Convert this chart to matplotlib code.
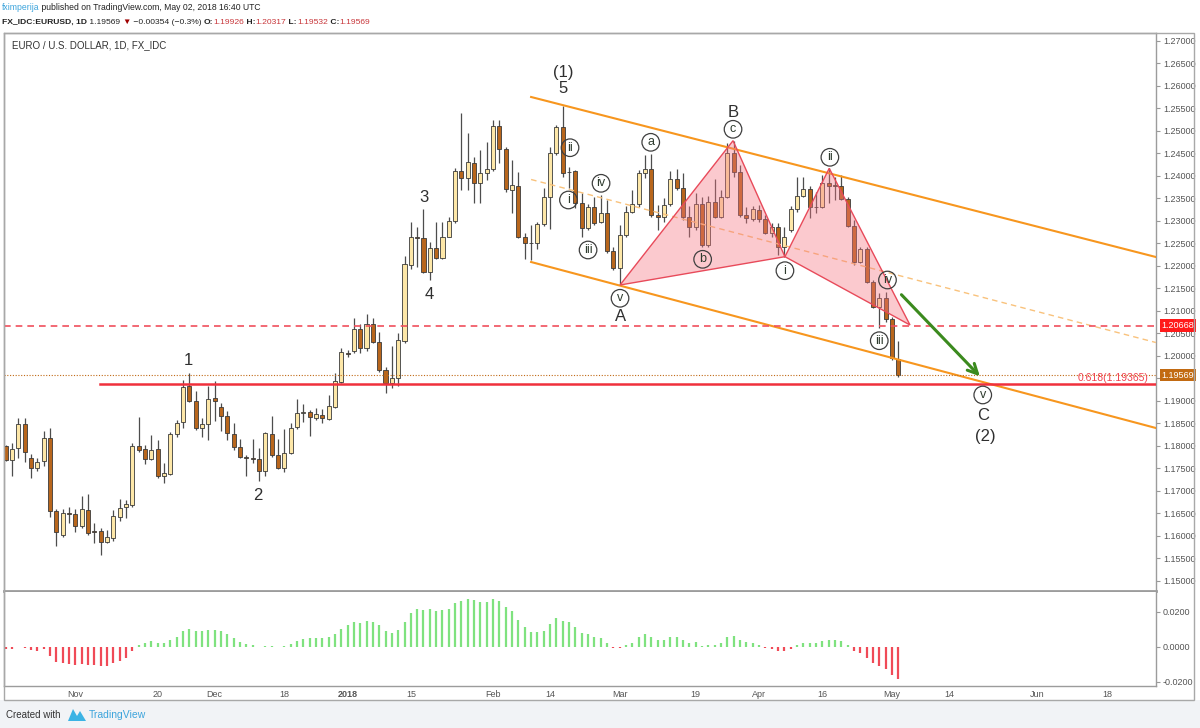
import matplotlib
matplotlib.use('Agg')
import matplotlib.pyplot as plt
import matplotlib.transforms as mtransforms
from matplotlib.patches import Polygon, Rectangle
import numpy as np
import pandas as pd

plt.rcParams['font.family'] = ['Liberation Sans', 'DejaVu Sans']

# FX_IDC:EURUSD daily candles, 17 Oct 2017 .. 2 May 2018 (one per weekday)
opens = [
    1.17994, 1.17683, 1.17942, 1.18483, 1.17720, 1.17497, 1.17660, 1.18179, 1.16549, 1.16008,
    1.16512, 1.16475, 1.16223, 1.16571, 1.16112, 1.16112, 1.15868, 1.15957, 1.16423, 1.16630,
    1.16682, 1.17994, 1.17927, 1.17705, 1.17920, 1.17334, 1.17379, 1.18253, 1.18520, 1.19327,
    1.18994, 1.18401, 1.18483, 1.19053, 1.18868, 1.18668, 1.18260, 1.17979, 1.17742, 1.17727,
    1.17697, 1.17438, 1.18260, 1.17794, 1.17512, 1.17846, 1.18408, 1.18720, 1.18757, 1.18623,
    1.18682, 1.18586, 1.18868, 1.19423, 1.20060, 1.20112, 1.20601, 1.20164, 1.20705, 1.20297,
    1.19682, 1.19386, 1.19497, 1.20334, 1.22016, 1.22645, 1.22608, 1.21867, 1.22386, 1.22164,
    1.22645, 1.23001, 1.24104, 1.23942, 1.24290, 1.23845, 1.24053, 1.24142, 1.25104, 1.24586,
    1.23682, 1.23771, 1.22645, 1.22512, 1.22497, 1.22927, 1.23519, 1.24497, 1.25075, 1.24090,
    1.24104, 1.23386, 1.22845, 1.23297, 1.22979, 1.23179, 1.22334, 1.21942, 1.22682, 1.23201,
    1.23371, 1.24067, 1.24142, 1.23127, 1.23075, 1.23371, 1.23927, 1.23719, 1.23075, 1.22853,
    1.23371, 1.22460, 1.23423, 1.23075, 1.23534, 1.24497, 1.24090, 1.23127, 1.23030, 1.23238,
    1.23030, 1.22719, 1.22853, 1.22408, 1.22793, 1.23253, 1.23549, 1.23697, 1.23312, 1.23297,
    1.23830, 1.23793, 1.23771, 1.23475, 1.22882, 1.22090, 1.22364, 1.21645, 1.21075, 1.21275,
    1.20808, 1.19926]
highs = [
    1.18010, 1.18068, 1.18623, 1.18623, 1.17816, 1.17720, 1.18327, 1.18386, 1.16586, 1.16586,
    1.16645, 1.16586, 1.16890, 1.16927, 1.16275, 1.16164, 1.16127, 1.16571, 1.16816, 1.16794,
    1.18068, 1.18631, 1.18016, 1.18238, 1.18127, 1.17608, 1.18312, 1.18571, 1.19460, 1.19623,
    1.19223, 1.18608, 1.19334, 1.19438, 1.18957, 1.18779, 1.18497, 1.18142, 1.17794, 1.18142,
    1.17942, 1.18312, 1.18660, 1.18142, 1.18364, 1.18512, 1.19038, 1.18927, 1.18794, 1.18831,
    1.18808, 1.19127, 1.19608, 1.20164, 1.20127, 1.20830, 1.20705, 1.20927, 1.20830, 1.20519,
    1.19756, 1.20216, 1.20497, 1.22216, 1.22979, 1.22867, 1.23253, 1.22534, 1.22979, 1.22979,
    1.23075, 1.24164, 1.25401, 1.24956, 1.24423, 1.24571, 1.24756, 1.25238, 1.25238, 1.24645,
    1.24349, 1.24090, 1.22734, 1.22905, 1.22979, 1.23719, 1.24645, 1.25127, 1.25549, 1.24201,
    1.24127, 1.23608, 1.23371, 1.23534, 1.23571, 1.23460, 1.22423, 1.22905, 1.23327, 1.23682,
    1.24127, 1.24460, 1.24482, 1.23349, 1.23497, 1.24112, 1.24142, 1.24067, 1.23327, 1.23608,
    1.23534, 1.23549, 1.23919, 1.23682, 1.24719, 1.24779, 1.24238, 1.23312, 1.23327, 1.23349,
    1.23127, 1.22942, 1.22942, 1.22867, 1.23327, 1.23964, 1.23979, 1.23771, 1.23645, 1.24016,
    1.24164, 1.23979, 1.24016, 1.23534, 1.23016, 1.22423, 1.22423, 1.21682, 1.21386, 1.21423,
    1.20867, 1.20317]
lows = [
    1.17670, 1.17327, 1.17720, 1.17646, 1.17275, 1.17446, 1.17549, 1.16423, 1.15771, 1.15979,
    1.16275, 1.16090, 1.16164, 1.16008, 1.15831, 1.15579, 1.15831, 1.15890, 1.16327, 1.16386,
    1.16645, 1.17868, 1.17594, 1.17683, 1.17275, 1.17164, 1.17349, 1.18186, 1.18386, 1.18964,
    1.18349, 1.18201, 1.18127, 1.18549, 1.18327, 1.18127, 1.17905, 1.17720, 1.17334, 1.17608,
    1.17216, 1.17334, 1.17757, 1.17483, 1.17409, 1.17809, 1.18364, 1.18520, 1.18216, 1.18571,
    1.18497, 1.18571, 1.18831, 1.19386, 1.19979, 1.20053, 1.20053, 1.20112, 1.20275, 1.19645,
    1.19179, 1.19275, 1.19327, 1.20290, 1.21919, 1.21979, 1.21845, 1.21682, 1.22142, 1.22142,
    1.22630, 1.22942, 1.23682, 1.23682, 1.23401, 1.23386, 1.23905, 1.24112, 1.24275, 1.23645,
    1.23179, 1.22608, 1.22142, 1.22127, 1.22364, 1.22882, 1.22808, 1.24460, 1.23979, 1.23719,
    1.23275, 1.22645, 1.22793, 1.22905, 1.22956, 1.22275, 1.21900, 1.21571, 1.22645, 1.23164,
    1.23312, 1.23942, 1.23090, 1.22793, 1.22979, 1.23327, 1.23682, 1.23016, 1.22645, 1.22793,
    1.22423, 1.22423, 1.23053, 1.23053, 1.23497, 1.23979, 1.23090, 1.22942, 1.23001, 1.22979,
    1.22705, 1.22630, 1.22238, 1.22186, 1.22756, 1.23201, 1.23519, 1.23053, 1.23164, 1.23275,
    1.23386, 1.23460, 1.23460, 1.22867, 1.22016, 1.22053, 1.21608, 1.21053, 1.20608, 1.20756,
    1.19904, 1.19532]
closes = [
    1.17683, 1.17920, 1.18483, 1.17853, 1.17497, 1.17646, 1.18179, 1.16549, 1.16075, 1.16497,
    1.16475, 1.16223, 1.16586, 1.16053, 1.16083, 1.15868, 1.15964, 1.16438, 1.16623, 1.16697,
    1.17994, 1.17905, 1.17705, 1.17905, 1.17334, 1.17401, 1.18253, 1.18497, 1.19312, 1.18994,
    1.18401, 1.18475, 1.19038, 1.18994, 1.18668, 1.18275, 1.17979, 1.17742, 1.17727, 1.17712,
    1.17438, 1.18275, 1.17794, 1.17512, 1.17846, 1.18401, 1.18720, 1.18757, 1.18645, 1.18697,
    1.18608, 1.18890, 1.19438, 1.20075, 1.20045, 1.20601, 1.20164, 1.20705, 1.20297, 1.19682,
    1.19401, 1.19497, 1.20349, 1.22038, 1.22645, 1.22623, 1.21867, 1.22386, 1.22164, 1.22645,
    1.23001, 1.24104, 1.23942, 1.24304, 1.23845, 1.24053, 1.24142, 1.25104, 1.24586, 1.23697,
    1.23793, 1.22645, 1.22497, 1.22497, 1.22927, 1.23519, 1.24497, 1.25075, 1.24067, 1.24075,
    1.23401, 1.22845, 1.23297, 1.22942, 1.23179, 1.22334, 1.21942, 1.22682, 1.23201, 1.23371,
    1.24067, 1.24142, 1.23127, 1.23075, 1.23349, 1.23927, 1.23719, 1.23075, 1.22867, 1.23371,
    1.22460, 1.23423, 1.23090, 1.23534, 1.24497, 1.24090, 1.23127, 1.23053, 1.23253, 1.23030,
    1.22719, 1.22867, 1.22408, 1.22645, 1.23253, 1.23549, 1.23697, 1.23297, 1.23297, 1.23830,
    1.23771, 1.23771, 1.23475, 1.22882, 1.22090, 1.22364, 1.21645, 1.21075, 1.21275, 1.20808,
    1.19942, 1.19569]

# oscillator histogram in the lower pane
osc = [
    -0.0015, -0.0015, -0.0002, -0.0006, -0.0019, -0.0023, -0.0011, -0.0051, -0.0086, -0.0093,
    -0.0099, -0.0107, -0.0099, -0.0107, -0.0107, -0.0110, -0.0110, -0.0095, -0.0080, -0.0065,
    -0.0023, 0.0010, 0.0019, 0.0030, 0.0023, 0.0019, 0.0038, 0.0057, 0.0091, 0.0099,
    0.0091, 0.0091, 0.0093, 0.0093, 0.0091, 0.0070, 0.0048, 0.0029, 0.0015, 0.0008,
    -0.0004, 0.0004, 0.0002, -0.0004, 0.0004, 0.0015, 0.0030, 0.0042, 0.0050, 0.0051,
    0.0048, 0.0057, 0.0074, 0.0099, 0.0122, 0.0139, 0.0135, 0.0147, 0.0143, 0.0122,
    0.0091, 0.0080, 0.0095, 0.0143, 0.0190, 0.0217, 0.0210, 0.0213, 0.0206, 0.0211,
    0.0217, 0.0251, 0.0261, 0.0274, 0.0267, 0.0257, 0.0255, 0.0270, 0.0261, 0.0229,
    0.0206, 0.0152, 0.0114, 0.0086, 0.0086, 0.0091, 0.0130, 0.0162, 0.0147, 0.0143,
    0.0114, 0.0080, 0.0070, 0.0053, 0.0048, 0.0019, -0.0006, -0.0006, 0.0010, 0.0023,
    0.0053, 0.0072, 0.0057, 0.0038, 0.0038, 0.0053, 0.0053, 0.0038, 0.0023, 0.0025,
    0.0006, 0.0010, 0.0010, 0.0023, 0.0057, 0.0063, 0.0038, 0.0025, 0.0019, 0.0008,
    -0.0006, -0.0011, -0.0027, -0.0025, -0.0011, 0.0008, 0.0019, 0.0019, 0.0019, 0.0032,
    0.0038, 0.0038, 0.0032, 0.0010, -0.0023, -0.0038, -0.0063, -0.0095, -0.0110, -0.0130,
    -0.0162, -0.0187]

tick_dates = ['2017-11-01', '2017-11-20', '2017-12-01', '2017-12-18', '2018-01-01', '2018-01-15',
              '2018-02-01', '2018-02-14', '2018-03-01', '2018-03-19', '2018-04-02', '2018-04-16',
              '2018-05-01', '2018-05-14', '2018-06-01', '2018-06-18']
tick_labels = ['Nov', '20', 'Dec', '18', '2018', '15', 'Feb', '14', 'Mar', '19', 'Apr', '16',
               'May', '14', 'Jun', '18']

# elliott wave labels (bar index, price)
wave_text = ['1', '2', '3', '4', '5', '(1)', 'A', 'B', 'C', '(2)']
wave_x = [28.8, 39.9, 66.1, 66.9, 88.0, 88.0, 97.05, 114.9, 154.35, 154.7]
wave_y = [1.19904, 1.16889, 1.2352, 1.21364, 1.25927, 1.26304, 1.20867, 1.2540, 1.18682, 1.1820]
circ_text = ['ii', 'i', 'iv', 'iii', 'v', 'a', 'b', 'c', 'i', 'ii', 'iv', 'iii', 'v']
circ_x = [89.15, 88.9, 94.05, 92.0, 97.05, 101.9, 110.1, 114.9, 123.1, 130.2, 139.3, 138.0, 154.35]
circ_y = [1.24622, 1.2346, 1.23831, 1.22349, 1.21276, 1.24742, 1.22142, 1.25031, 1.21889,
          1.24409, 1.21682, 1.20333, 1.19127]

# drawn tools
chan_x = [83.0, 181.7]
chan_top = [1.25749, 1.22193]
chan_bot = [1.22082, 1.18393]
tri1 = [(97.05, 1.21571), (114.9, 1.24778), (123.1, 1.22200)]
tri2 = [(123.1, 1.22200), (130.1, 1.24164), (142.86, 1.20682)]
fib_level = 1.19365
fib_start = 14.9
resist = 1.20668
last_close = 1.19569
arrow_from = (141.2, 1.2140)
arrow_to = (154.2, 1.19498)

opens = np.array(opens); highs = np.array(highs)
lows = np.array(lows); closes = np.array(closes); osc = np.array(osc)
n = len(opens)
x = np.arange(n)
dates = pd.bdate_range('2017-10-17', periods=200)
tick_pos = [dates.get_loc(pd.Timestamp(d)) for d in tick_dates]

W, H = 1200, 728
fig = plt.figure(figsize=(12, 7.28), dpi=100)
fig.patch.set_facecolor('white')


def fx(px):
    return px / W


def fy(py):
    return 1 - py / H


fig.patches.append(Rectangle((0, 0), 1, fy(700), transform=fig.transFigure,
                             facecolor='#f1f3f6', edgecolor='none', zorder=0))

ax = fig.add_axes([fx(4), fy(591), fx(1156) - fx(4), fy(33) - fy(591)])
ax2 = fig.add_axes([fx(4), fy(686), fx(1156) - fx(4), fy(592) - fy(686)])
xlim = (-0.27, 181.72)

# candles
up = closes >= opens
ax.vlines(x, lows, highs, color='#4d4d4d', lw=0.9, zorder=2)
bottom = np.minimum(opens, closes)
height = np.maximum(np.abs(closes - opens), 0.00006)
ax.bar(x, height, bottom=bottom, width=0.64,
       color=np.where(up, '#fde7a8', '#b8661c'), edgecolor='#3a3a3a',
       linewidth=0.6, zorder=3)

# channel
ax.plot(chan_x, chan_top, color='#f7961e', lw=1.5, zorder=4)
ax.plot(chan_x, chan_bot, color='#f7961e', lw=1.5, zorder=4)
ax.plot(chan_x, [(a + b) / 2 for a, b in zip(chan_top, chan_bot)], color='#f9c27c',
        lw=1.0, ls=(0, (4, 3)), zorder=4)

# horizontal levels
ax.plot([fib_start, xlim[1]], [fib_level, fib_level], color='#f0303c', lw=1.8, zorder=5)
ax.axhline(resist, color='#f04f5c', lw=1.2, ls=(0, (4, 3)), zorder=5)
ax.axhline(last_close, color='#c06a16', lw=0.8, ls=(0, (1, 1.5)), zorder=5)
ax.text(180.6, fib_level + 0.0003, '0.618(1.19365)', ha='right', va='bottom',
        color='#f0404c', fontsize=7.5, zorder=6)

# harmonic triangles
for tri in (tri1, tri2):
    ax.add_patch(Polygon(tri, closed=True, facecolor=(0.96, 0.45, 0.5, 0.38),
                         edgecolor='#e84a5a', lw=1.0, zorder=4))

ax.annotate('', xy=arrow_to, xytext=arrow_from,
            arrowprops=dict(arrowstyle='->,head_length=0.7,head_width=0.35',
                            color='#3b8a1e', lw=2.2), zorder=6)

for t, xx, yy in zip(wave_text, wave_x, wave_y):
    ax.text(xx, yy, t, ha='center', va='center', fontsize=12, color='#2f2f2f', zorder=7)
ax.scatter(circ_x, circ_y, s=160, facecolor='none', edgecolor='#3f3f3f', linewidth=0.9, zorder=7)
for t, xx, yy in zip(circ_text, circ_x, circ_y):
    ax.text(xx, yy, t, ha='center', va='center', fontsize=9, color='#2e3b2e', zorder=8)

ax.set_xlim(*xlim)
ax.set_ylim(1.14771, 1.27171)
ax.set_xticks([])
ax.yaxis.tick_right()
price_ticks = np.arange(1.15, 1.27001, 0.005)
ax.set_yticks(price_ticks)
# the 1.19500 label is hidden behind the last-price tag in the reference
ax.set_yticklabels(['' if abs(p - 1.195) < 1e-6 else '%.5f' % p for p in price_ticks])
ax.tick_params(axis='y', labelsize=6.5, colors='#9a9a9a', labelcolor='#555555', length=3, pad=2)

# price tags on axis
blend = mtransforms.blended_transform_factory(ax.transAxes, ax.transData)
ax.text(1.005, resist, '1.20668', transform=blend, va='center', ha='left', fontsize=6.5,
        color='white', bbox=dict(boxstyle='square,pad=0.2', fc='#ff1a1a', ec='none'),
        clip_on=False, zorder=9)
ax.text(1.005, last_close, '1.19569', transform=blend, va='center', ha='left', fontsize=6.5,
        color='white', bbox=dict(boxstyle='square,pad=0.2', fc='#c26a12', ec='none'),
        clip_on=False, zorder=9)

# oscillator pane
ax2.vlines(x, 0, osc, colors=np.where(osc >= 0, '#7fe27f', '#f04a57'), lw=1.6)
ax2.set_xlim(*xlim)
ax2.set_ylim(-0.02246, 0.03126)
ax2.yaxis.tick_right()
ax2.set_yticks([-0.02, 0.0, 0.02])
ax2.set_yticklabels(['-0.0200', '0.0000', '0.0200'])
ax2.set_xticks(tick_pos)
ax2.set_xticklabels(tick_labels)
ax2.tick_params(axis='y', labelsize=6.5, colors='#9a9a9a', labelcolor='#555555', length=3, pad=2)
ax2.tick_params(axis='x', labelsize=6.5, colors='#9a9a9a', labelcolor='#555555', length=0, pad=3)
for lab in ax2.get_xticklabels():
    if lab.get_text() == '2018':
        lab.set_fontweight('bold')

for a in (ax, ax2):
    for s in a.spines.values():
        s.set_color('#9c9c9c')
        s.set_linewidth(1.0)
ax.spines['bottom'].set_linewidth(2.0)
ax2.spines['top'].set_visible(False)

# outer frame of the chart
fig.patches.append(Rectangle((fx(4), fy(700)), fx(1194) - fx(4), fy(33) - fy(700),
                             transform=fig.transFigure, facecolor='none',
                             edgecolor='#a8a8a8', lw=1.0, zorder=10))

fig.text(fx(12), fy(45), 'EURO / U.S. DOLLAR, 1D, FX_IDC', fontsize=7, color='#333333',
         va='center')

renderer = fig.canvas.get_renderer()


def draw_parts(parts, x0, y0, size):
    xx = x0
    for s, color, weight in parts:
        t = fig.text(xx, y0, s, color=color, fontsize=size, fontweight=weight, va='center')
        bb = t.get_window_extent(renderer=renderer)
        xx += bb.width / fig.bbox.width


red = '#c8363a'
draw_parts([('fximperija', '#3ca4dc', 'normal'),
            (' published on TradingView.com, May 02, 2018 16:40 UTC', '#222222', 'normal')],
           fx(2), fy(7.5), 6.2)
draw_parts([('FX_IDC:EURUSD, 1D', '#222222', 'bold'), (' 1.19569 ', '#222222', 'normal'),
            ('\u25bc', '#a00000', 'normal'), (' \u22120.00354 (\u22120.3%) ', '#222222', 'normal'),
            ('O:', '#222222', 'bold'), ('1.19926', red, 'normal'),
            (' H:', '#222222', 'bold'), ('1.20317', red, 'normal'),
            (' L:', '#222222', 'bold'), ('1.19532', red, 'normal'),
            (' C:', '#222222', 'bold'), ('1.19569', red, 'normal')],
           fx(2), fy(22.5), 6.1)

# footer
fig.text(fx(6), fy(715), 'Created with', fontsize=7, color='#333333', va='center')
fig.patches.append(Polygon([(fx(68), fy(721)), (fx(73), fy(709)), (fx(77), fy(716)),
                            (fx(80), fy(711)), (fx(86), fy(721))], closed=True,
                           transform=fig.transFigure, facecolor='#3bb3e4', edgecolor='none'))
fig.text(fx(89), fy(715), 'TradingView', fontsize=7.5, color='#3ca4dc', va='center')

fig.savefig('out.png', dpi=100)
